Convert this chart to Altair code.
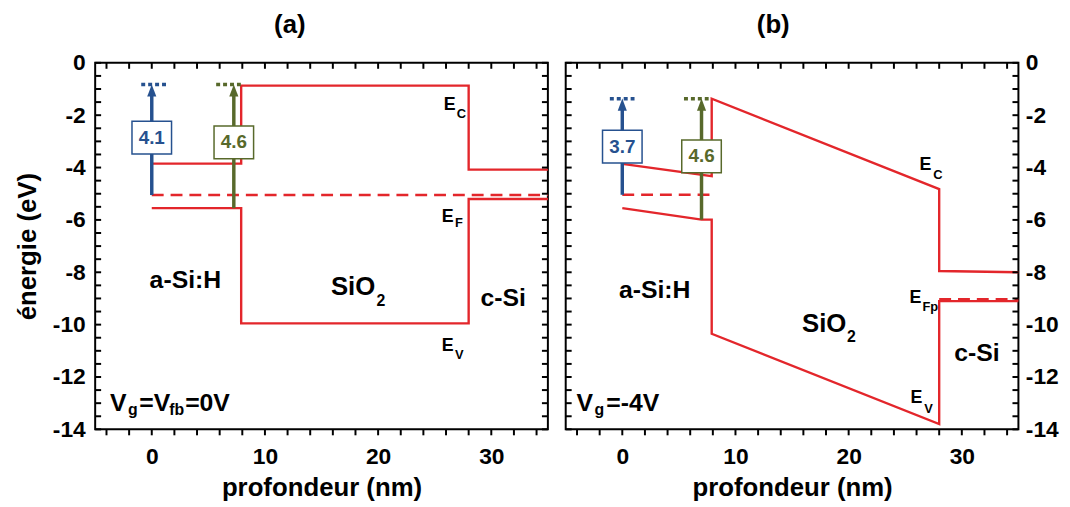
import altair as alt
import pandas as pd

FONT = "Liberation Sans"
RED = "#e3262b"
BLUE = "#26518f"
GREEN = "#58692b"
W, H = 457, 370

# ---------------- axes ----------------
x_domain = [-5, 35]
y_domain = [-14, 0]
x_ticks = list(range(-4, 35, 2))
y_major = list(range(-14, 1, 2))
y_minor = [-14 + 0.5 * i for i in range(29)]

# ---------------- panel (a) : Vg = Vfb = 0 V ----------------
a_ec_x = [0, 7.9, 7.9, 28, 28, 35]
a_ec_y = [-3.85, -3.85, -0.87, -0.87, -4.08, -4.08]
a_ev_x = [0, 7.9, 7.9, 28, 28, 35]
a_ev_y = [-5.55, -5.55, -9.95, -9.95, -5.2, -5.2]
a_ef_x = [0, 35]
a_ef_y = [-5.05, -5.05]

a_arrow_x = [0, 7.25]
a_arrow_y0 = [-5.05, -5.55]
a_arrow_y1 = [-0.83, -0.83]
a_arrow_col = [BLUE, GREEN]
a_arrow_lab = ["4.1", "4.6"]
a_arrow_laby = [-2.86, -3.04]
a_dot_x1 = [-0.93, 5.69]
a_dot_x2 = [1.31, 7.87]

a_lvl_x = [26.86, 26.68, 26.68]
a_lvl_y = [-1.81, -6.09, -11.0]
a_sub_txt = ["C", "F", "V"]
a_sub_x = [26.95, 26.8, 26.8]
a_sub_y = [-2.12, -6.28, -11.3]
a_reg_txt = ["a-Si:H", "c-Si"]
a_reg_x = [2.97, 31.06]
a_reg_y = [-8.6, -9.3]
a_ox_x, a_ox_y, a_ox2_x, a_ox2_y = 19.75, -8.86, 19.85, -9.28
a_vg_txt = ["V", "=V", "=0V"]
a_vg_x = [-3.7, -1.1, 2.95]
a_vgsub_txt = ["g", "fb"]
a_vgsub_x = [-2.1, 1.55]

# ---------------- panel (b) : Vg = -4 V ----------------
b_ec_x = [0, 7.9, 7.9, 28, 28, 35]
b_ec_y = [-3.86, -4.33, -1.37, -4.82, -7.95, -8.0]
b_ev_x = [0, 7.0, 7.9, 7.9, 28, 28, 35]
b_ev_y = [-5.55, -5.99, -5.99, -10.35, -13.8, -9.1, -9.1]
b_ef1_x = [0, 7.9]
b_ef1_y = [-5.04, -5.04]
b_ef2_x = [28, 35]
b_ef2_y = [-9.03, -9.03]

b_arrow_x = [0, 7.0]
b_arrow_y0 = [-5.04, -5.99]
b_arrow_y1 = [-1.37, -1.37]
b_arrow_col = [BLUE, GREEN]
b_arrow_lab = ["3.7", "4.6"]
b_arrow_laby = [-3.2, -3.57]
b_dot_x1 = [-1.1, 5.45]
b_dot_x2 = [1.08, 7.63]

b_lvl_x = [27.31, 26.43, 26.52]
b_lvl_y = [-4.08, -9.17, -13.0]
b_sub_txt = ["C", "Fp", "V"]
b_sub_x = [27.48, 26.52, 26.69]
b_sub_y = [-4.45, -9.47, -13.38]
b_reg_txt = ["a-Si:H", "c-Si"]
b_reg_x = [2.86, 31.33]
b_reg_y = [-8.98, -11.37]
b_ox_x, b_ox_y, b_ox2_x, b_ox2_y = 19.8, -10.3, 19.85, -10.68
b_vg_txt = ["V", "=-4V"]
b_vg_x = [-4.04, -1.42]
b_vgsub_txt = ["g"]
b_vgsub_x = [-2.45]

vg_y = -13.28
vgsub_y = -13.47

HEAD = "M0,-1L0.75,1L-0.75,1Z"
BOX = "M-1.21,-1L1.21,-1L1.21,1L-1.21,1Z"


def X(field, axis=None):
    return alt.X(field, type="quantitative",
                 scale=alt.Scale(domain=x_domain, nice=False, zero=False), axis=axis)


def Y(field, axis=None):
    return alt.Y(field, type="quantitative",
                 scale=alt.Scale(domain=y_domain, nice=False, zero=False), axis=axis)


def seg_df(segs):
    rows = []
    for name, (xx, yy) in segs.items():
        for i, (a, b) in enumerate(zip(xx, yy)):
            rows.append({"seg": name, "i": i, "x": a, "y": b})
    return pd.DataFrame(rows)


def txt_df(texts, xs, ys):
    return pd.DataFrame({"t": texts, "x": xs, "y": ys})


def panel(solid, dashed, arrows, lvl, sub, reg, ox, vg, vgsub, title, dx, side):
    sol = seg_df(solid)
    das = seg_df(dashed)
    bottom_axis = alt.Axis(orient="bottom", values=[0, 10, 20, 30], ticks=False,
                           labelExpr="datum.value + ''", labelPadding=16,
                           labelFlush=False, title="profondeur (nm)", titlePadding=7,
                           domain=False, grid=False)
    if side == "left":
        label_axis = alt.Axis(orient="left", values=y_major, ticks=False,
                              labelExpr="datum.value + ''", labelPadding=10,
                              title="énergie (eV)", titlePadding=12,
                              domain=False, grid=False)
    else:
        label_axis = alt.Axis(orient="right", values=y_major, ticks=False,
                              labelExpr="datum.value + ''", labelPadding=7,
                              title=None, domain=False, grid=False)

    layers = []
    layers.append(alt.Chart(sol).mark_line(color=RED, strokeWidth=2.4).encode(
        x=X("x", bottom_axis), y=Y("y", label_axis),
        detail="seg:N", order="i:Q"))
    layers.append(alt.Chart(das).mark_line(color=RED, strokeWidth=2.4,
                                           strokeDash=[12, 7]).encode(
        x=X("x"), y=Y("y"), detail="seg:N", order="i:Q"))

    # tick marks: inward on top / left / right, outward at the bottom
    xt = pd.DataFrame({"v": x_ticks})
    yt = pd.DataFrame({"v": y_minor})
    tk = dict(color="black", strokeWidth=2)
    layers.append(alt.Chart(xt).mark_rule(**tk).encode(
        x=X("v"), y=alt.value(0), y2=alt.value(6)))
    layers.append(alt.Chart(xt).mark_rule(**tk).encode(
        x=X("v"), y=alt.value(H), y2=alt.value(H + 6)))
    layers.append(alt.Chart(yt).mark_rule(**tk).encode(
        y=Y("v"), x=alt.value(0), x2=alt.value(6)))
    layers.append(alt.Chart(yt).mark_rule(**tk).encode(
        y=Y("v"), x=alt.value(W - 6), x2=alt.value(W)))

    ar = pd.DataFrame(arrows)
    col = alt.Color("col:N", scale=None)
    layers.append(alt.Chart(ar).mark_rule(strokeWidth=3.5, strokeCap="butt",
                                          strokeDash=[4, 3]).encode(
        x=X("d1"), x2="d2", y=Y("y1"), color=col))
    layers.append(alt.Chart(ar).mark_rule(strokeWidth=3.5, y2Offset=8).encode(
        x=X("x"), y=Y("y0"), y2="y1", color=col))
    layers.append(alt.Chart(ar).mark_point(shape=HEAD, size=150, filled=True,
                                           opacity=1, yOffset=6).encode(
        x=X("x"), y=Y("y1"), color=col))
    layers.append(alt.Chart(ar).mark_point(shape=BOX, size=33 * 33, filled=True,
                                           fill="white", strokeWidth=1.5,
                                           opacity=1).encode(
        x=X("x"), y=Y("laby"), stroke=alt.Stroke("col:N", scale=None)))
    layers.append(alt.Chart(ar).mark_text(font=FONT, fontWeight="bold", fontSize=19,
                                          baseline="middle", align="center").encode(
        x=X("x"), y=Y("laby"), text="lab:N", color=col))

    def tl(df, size, align):
        return alt.Chart(df).mark_text(font=FONT, fontWeight="bold", fontSize=size,
                                       align=align, baseline="alphabetic",
                                       color="black").encode(
            x=X("x"), y=Y("y"), text="t:N")

    layers.append(tl(lvl, 18, "right"))
    layers.append(tl(sub, 13, "left"))
    layers.append(tl(reg, 25, "center"))
    layers.append(tl(ox[0], 26, "right"))
    layers.append(tl(ox[1], 16, "left"))
    layers.append(tl(vg, 25, "left"))
    layers.append(tl(vgsub, 16, "left"))

    return alt.layer(*layers).resolve_axis(x="independent", y="independent").properties(
        width=W, height=H,
        title=alt.TitleParams(title, fontSize=26, font=FONT, fontWeight="bold",
                              anchor="middle", frame="group", dx=dx, offset=14,
                              color="black"))


pa = panel(
    {"ec": (a_ec_x, a_ec_y), "ev": (a_ev_x, a_ev_y)},
    {"ef": (a_ef_x, a_ef_y)},
    {"x": a_arrow_x, "y0": a_arrow_y0, "y1": a_arrow_y1, "col": a_arrow_col,
     "lab": a_arrow_lab, "laby": a_arrow_laby, "d1": a_dot_x1, "d2": a_dot_x2},
    txt_df(["E"] * 3, a_lvl_x, a_lvl_y),
    txt_df(a_sub_txt, a_sub_x, a_sub_y),
    txt_df(a_reg_txt, a_reg_x, a_reg_y),
    (txt_df(["SiO"], [a_ox_x], [a_ox_y]), txt_df(["2"], [a_ox2_x], [a_ox2_y])),
    txt_df(a_vg_txt, a_vg_x, [vg_y] * len(a_vg_txt)),
    txt_df(a_vgsub_txt, a_vgsub_x, [vgsub_y] * len(a_vgsub_txt)),
    "(a)", -32, "left")

pb = panel(
    {"ec": (b_ec_x, b_ec_y), "ev": (b_ev_x, b_ev_y)},
    {"ef1": (b_ef1_x, b_ef1_y), "ef2": (b_ef2_x, b_ef2_y)},
    {"x": b_arrow_x, "y0": b_arrow_y0, "y1": b_arrow_y1, "col": b_arrow_col,
     "lab": b_arrow_lab, "laby": b_arrow_laby, "d1": b_dot_x1, "d2": b_dot_x2},
    txt_df(["E"] * 3, b_lvl_x, b_lvl_y),
    txt_df(b_sub_txt, b_sub_x, b_sub_y),
    txt_df(b_reg_txt, b_reg_x, b_reg_y),
    (txt_df(["SiO"], [b_ox_x], [b_ox_y]), txt_df(["2"], [b_ox2_x], [b_ox2_y])),
    txt_df(b_vg_txt, b_vg_x, [vg_y] * len(b_vg_txt)),
    txt_df(b_vgsub_txt, b_vgsub_x, [vgsub_y] * len(b_vgsub_txt)),
    "(b)", -19, "right")

chart = alt.hconcat(pa, pb, spacing=10).properties(
    padding={"left": 5, "top": 1, "right": 2, "bottom": 0}
).configure_view(stroke="black", strokeWidth=2).configure_axis(
    labelFont=FONT, labelFontWeight="bold", labelFontSize=23, labelColor="black",
    titleFont=FONT, titleFontWeight="bold", titleFontSize=26, titleColor="black",
    grid=False, domain=False
)

chart.save("out.html", embed_options={"renderer": "svg", "actions": False})
